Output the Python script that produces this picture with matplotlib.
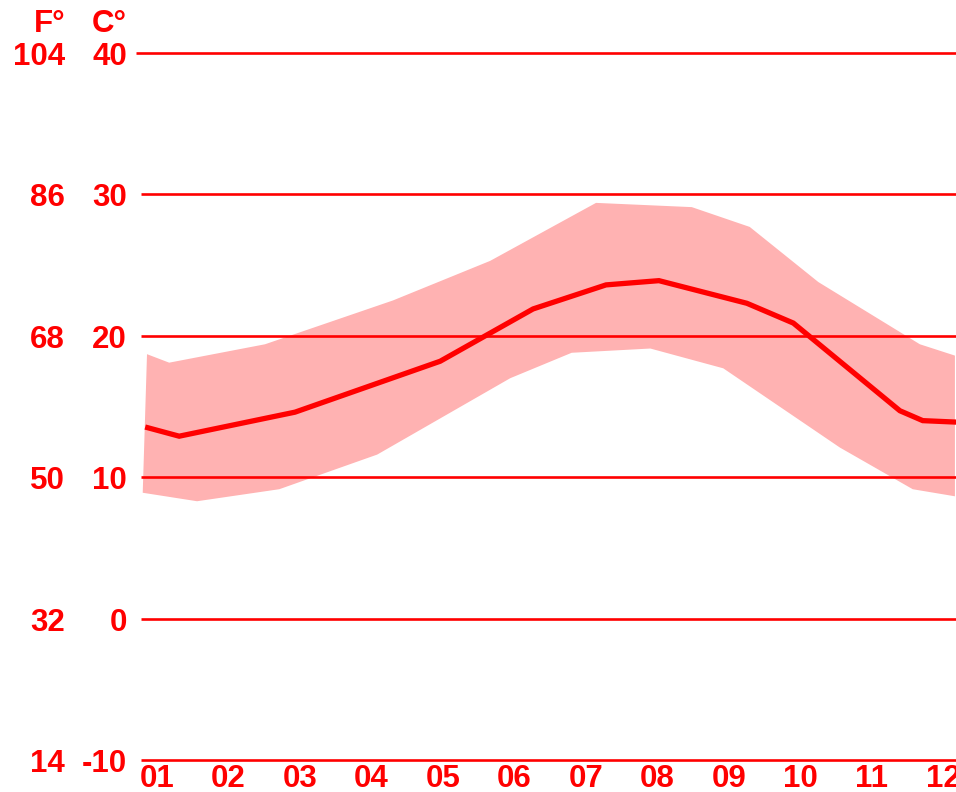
import matplotlib
matplotlib.use("Agg")
import matplotlib.pyplot as plt
import matplotlib.transforms as mtransforms

plt.rcParams["font.family"] = ["Liberation Sans", "DejaVu Sans"]
plt.rcParams["font.weight"] = "bold"

RED = "#ff0000"
BAND = "#ffb2b2"

MONTHS = ["01", "02", "03", "04", "05", "06", "07", "08", "09", "10", "11", "12"]
C_TICKS = [-10, 0, 10, 20, 30, 40]

# mean temperature line (month position, deg C)
mean_x = [0.87, 1.31, 2.93, 4.96, 6.26, 7.28, 8.02, 9.25, 9.90, 11.39, 11.71, 12.16]
mean_c = [13.5, 12.9, 14.6, 18.2, 21.9, 23.6, 23.9, 22.3, 20.9, 14.7, 14.0, 13.9]

# band upper edge (max)
high_x = [0.86, 1.17, 2.51, 4.30, 5.66, 7.14, 8.48, 9.29, 10.25, 11.67, 12.16]
high_c = [18.7, 18.1, 19.4, 22.5, 25.3, 29.4, 29.1, 27.7, 23.8, 19.4, 18.6]

# band lower edge (min)
low_x = [0.80, 1.56, 2.71, 4.08, 5.94, 6.80, 7.90, 8.92, 10.55, 11.57, 12.16]
low_c = [8.9, 8.3, 9.15, 11.6, 17.0, 18.8, 19.1, 17.7, 12.1, 9.15, 8.65]

fig = plt.figure(figsize=(9.56, 7.92), dpi=100)
ax = fig.add_axes([136 / 956, 1 - 760 / 792, 820 / 956, 707 / 792])

# band polygon
ax.fill(high_x + low_x[::-1], high_c + low_c[::-1], color=BAND, lw=0, zorder=1)

# horizontal grid lines
for c in C_TICKS:
    x0 = 0.70 if c == 40 else 0.78
    ax.hlines(c, x0, 12.2, color=RED, lw=1.9, zorder=2, clip_on=False)

ax.plot(mean_x, mean_c, color=RED, lw=3.8, solid_joinstyle="miter", zorder=3)

ax.set_xlim(0.706, 12.175)
ax.set_ylim(-10, 40)
for s in ax.spines.values():
    s.set_visible(False)
ax.set_yticks([])
ax.set_xticks(range(1, 13), MONTHS)
ax.tick_params(axis="x", length=0, pad=3, labelsize=22.5, labelcolor=RED)
for lab in ax.get_xticklabels():
    lab.set_fontweight("bold")

# temperature labels, F and C columns (nudged a little down)
tr = ax.get_yaxis_transform() + mtransforms.ScaledTranslation(0, -4 / 100, fig.dpi_scale_trans)
for c in C_TICKS:
    f = round(c * 1.8 + 32)
    ax.text(-0.011, c, str(c), transform=tr, ha="right", va="center",
            fontsize=22.5, color=RED, fontweight="bold", clip_on=False)
    ax.text(-0.0866, c, str(f), transform=tr, ha="right", va="center",
            fontsize=22.5, color=RED, fontweight="bold", clip_on=False)

fig.text(65 / 956, 1 - 24 / 792, "F°", ha="right", va="center",
         fontsize=22.5, color=RED, fontweight="bold")
fig.text(127 / 956, 1 - 24 / 792, "C°", ha="right", va="center",
         fontsize=22.5, color=RED, fontweight="bold")

fig.savefig("out.png", dpi=100)
